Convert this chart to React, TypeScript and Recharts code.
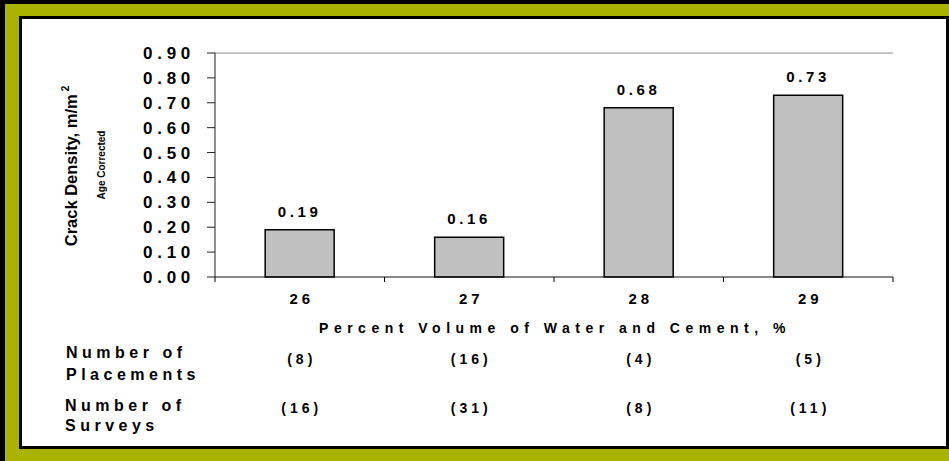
import { BarChart, Bar, XAxis, YAxis, LabelList, ReferenceLine } from 'recharts'

const categories = ['26', '27', '28', '29']
const crackDensity = [0.19, 0.16, 0.68, 0.73]
const placements = [8, 16, 4, 5]
const surveys = [16, 31, 8, 11]
const yTicks = [0, 0.1, 0.2, 0.3, 0.4, 0.5, 0.6, 0.7, 0.8, 0.9]

const data = categories.map((pct, i) => ({ pct, density: crackDensity[i] }))

const FONT = 'Arial, "Liberation Sans", sans-serif'
const OLIVE = '#aab400'

// x tick: Excel-style tick marks sit between the categories; the counts rows hang under each column
function CategoryTick({ x, y, payload, index }: any) {
  const half = payload.offset ?? 0
  const last = index === categories.length - 1
  return (
    <g fontFamily={FONT} fontWeight={700} fill="#000">
      <line x1={x - half} x2={x - half} y1={y} y2={y + 5} stroke="#000" />
      {last && <line x1={x + half} x2={x + half} y1={y} y2={y + 5} stroke="#000" />}
      <text x={x + 2} y={y + 27} fontSize={15} letterSpacing={4} textAnchor="middle">{payload.value}</text>
      <text x={x + 2} y={y + 87} fontSize={14} letterSpacing={4} textAnchor="middle">({placements[index]})</text>
      <text x={x + 2} y={y + 135.5} fontSize={14} letterSpacing={4} textAnchor="middle">({surveys[index]})</text>
    </g>
  )
}

export default function App() {
  return (
    <div style={{ position: 'absolute', left: 0, top: 0, width: 949, height: 461, background: '#000', fontFamily: FONT }}>
      <div style={{ position: 'absolute', left: 5, top: 4, right: 0, bottom: 0, background: OLIVE }} />
      <div style={{ position: 'absolute', left: 19, top: 16, width: 930, height: 433, boxSizing: 'border-box', border: '3px solid #000', background: '#fff' }} />

      <BarChart
        width={949}
        height={461}
        data={data}
        margin={{ top: 53, right: 56, bottom: 154, left: 135 }}
        barCategoryGap="29.6%"
        style={{ position: 'absolute', left: 0, top: 0 }}
      >
        <XAxis
          dataKey="pct"
          height={30}
          axisLine={{ stroke: '#111' }}
          tickLine={false}
          tickSize={0}
          tickMargin={0}
          interval={0}
          tick={<CategoryTick />}
        />
        <YAxis
          width={80}
          domain={[0, 0.9]}
          ticks={yTicks}
          interval={0}
          tickSize={8}
          tickMargin={12}
          axisLine={{ stroke: '#222' }}
          tickLine={{ stroke: '#222' }}
          tickFormatter={(v: number) => v.toFixed(2)}
          tick={{ fontSize: 17, fontWeight: 700, fill: '#000', letterSpacing: 4.7, fontFamily: FONT }}
        />
        <YAxis yAxisId="frame" orientation="right" width={0} domain={[0, 0.9]} tick={false} tickLine={false} axisLine={{ stroke: '#8c8c8c' }} />
        <ReferenceLine y={0.9} stroke="#8c8c8c" />
        <Bar dataKey="density" fill="#c0c0c0" stroke="#000" strokeWidth={1.5} isAnimationActive={false}>
          <LabelList
            dataKey="density"
            position="top"
            offset={13}
            formatter={(v: number) => v.toFixed(2)}
            fill="#000"
            style={{ fontSize: 15, fontWeight: 700, letterSpacing: 3.6, fontFamily: FONT }}
          />
        </Bar>
      </BarChart>

      <svg width={949} height={461} style={{ position: 'absolute', left: 0, top: 0, pointerEvents: 'none' }} fontFamily={FONT} fontWeight={700} fill="#000">
        <text transform="translate(77,166) rotate(-90)" textAnchor="middle" fontSize={16.5}>
          Crack Density, m/m<tspan fontSize={10} dx={3} dy={-8}>2</tspan>
        </text>
        <text transform="translate(105,165) rotate(-90)" textAnchor="middle" fontSize={10}>Age Corrected</text>
        <text x={555} y={333} textAnchor="middle" fontSize={14} letterSpacing={5.5}>Percent Volume of Water and Cement, %</text>
        <text x={66} y={358} fontSize={16} letterSpacing={4.5}>Number of</text>
        <text x={66} y={380} fontSize={16} letterSpacing={4.5}>Placements</text>
        <text x={65} y={411} fontSize={16} letterSpacing={4.5}>Number of</text>
        <text x={65} y={431} fontSize={16} letterSpacing={4.5}>Surveys</text>
      </svg>
    </div>
  )
}
